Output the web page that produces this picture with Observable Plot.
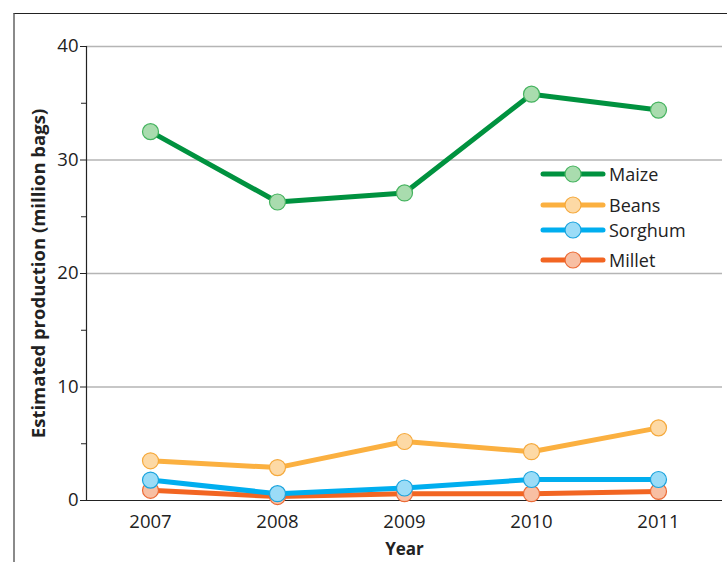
<!DOCTYPE html>
<html>
<head>
<meta charset="utf-8">
<script src="https://cdn.jsdelivr.net/npm/d3@7"></script>
<script src="https://cdn.jsdelivr.net/npm/@observablehq/plot@0.6"></script>
<style>
  html, body { margin: 0; padding: 0; background: #fff; }
  #wrap { position: relative; width: 727px; height: 562px; overflow: hidden; font-family: "Open Sans", sans-serif; }
  #frame { position: absolute; left: 13px; top: 13px; right: 0; bottom: -5px; border-top: 1.5px solid #222; border-left: 2px solid #8a8a8a; pointer-events: none; }
  #legend { position: absolute; left: 540px; top: 0; font-size: 18px; color: #222; }
  .row { position: absolute; left: 0; display: flex; align-items: center; white-space: nowrap; }
  .row span { margin-left: 3px; }
  svg text { font-family: "Open Sans", sans-serif; }
  g[aria-label="y-axis tick label"], g[aria-label="x-axis tick label"] { font-size: 18.5px; }
  g[aria-label="y-axis tick label"] text, g[aria-label="x-axis tick label"] text { font-size: 18.5px; }
  g[aria-label="y-axis label"] text { font-weight: bold; font-size: 18.5px; }
  g[aria-label="x-axis label"] text { font-weight: bold; font-size: 17px; }
</style>
</head>
<body>
<div id="wrap"><div id="frame"></div><div id="legend"></div></div>
<script>
const years = ["2007", "2008", "2009", "2010", "2011"];
const seriesNames = ["Maize", "Beans", "Sorghum", "Millet"];
const maize = [32.5, 26.3, 27.1, 35.8, 34.4];
const beans = [3.5, 2.9, 5.2, 4.3, 6.4];
const sorghum = [1.8, 0.6, 1.1, 1.85, 1.85];
const millet = [0.9, 0.35, 0.6, 0.6, 0.8];
const majorTicks = [0, 10, 20, 30, 40];
const minorTicks = [5, 15, 25, 35];
const lineColors = ["#00923f", "#fbb040", "#00aeef", "#f26522"];
const fillColors = ["#a9dcae", "#fdd9a5", "#9bdcf7", "#f8bfa3"];
const strokeColors = ["#45b35f", "#f5a93c", "#1aa3dd", "#ec6a35"];

const valuesBySeries = [maize, beans, sorghum, millet];
const data = [];
seriesNames.forEach((s, i) => years.forEach((y, j) => data.push({series: s, year: y, value: valuesBySeries[i][j]})));

// draw order: Millet, Sorghum, Beans, Maize
const drawOrder = ["Millet", "Sorghum", "Beans", "Maize"];
const seriesMarks = [];
for (const s of drawOrder) {
  const i = seriesNames.indexOf(s);
  const d = data.filter(r => r.series === s);
  seriesMarks.push(Plot.line(d, {x: "year", y: "value", stroke: lineColors[i], strokeWidth: 5, strokeLinejoin: "round"}));
  seriesMarks.push(Plot.dot(d, {x: "year", y: "value", r: 8, fill: fillColors[i], stroke: strokeColors[i], strokeWidth: 1.2}));
}

const chart = Plot.plot({
  width: 727,
  height: 562,
  marginLeft: 86,
  marginRight: 5,
  marginTop: 46,
  marginBottom: 62,
  style: {fontSize: "18px", color: "#222", background: "transparent", overflow: "visible"},
  x: {type: "point", domain: years, padding: 0.5},
  y: {domain: [0, 40]},
  marks: [
    Plot.gridY(majorTicks.slice(1), {stroke: "#b5b5b5", strokeOpacity: 1, strokeWidth: 1.5}),
    Plot.axisY(majorTicks, {tickSize: 6, tickPadding: 2, label: "Estimated production (million bags)", labelAnchor: "center", labelArrow: "none", labelOffset: 55, fontSize: 18}),
    Plot.axisY(minorTicks, {tickSize: 5, tickFormat: () => "", label: null}),
    Plot.axisX({tickSize: 0, tickPadding: 14, label: "Year", labelAnchor: "center", labelArrow: "none", labelOffset: 54, fontSize: 18}),
    Plot.ruleY([0], {stroke: "#222", strokeWidth: 1.2}),
    Plot.frame({anchor: "left", stroke: "#222", strokeWidth: 1.2}),
    ...seriesMarks
  ]
});
document.getElementById("wrap").prepend(chart);

// legend
const legendTops = [175, 206, 231, 261];
const legend = document.getElementById("legend");
seriesNames.forEach((s, i) => {
  const row = document.createElement("div");
  row.className = "row";
  row.style.top = (legendTops[i] - 13) + "px";
  const ns = "http://www.w3.org/2000/svg";
  const svg = document.createElementNS(ns, "svg");
  svg.setAttribute("width", 66); svg.setAttribute("height", 24);
  const line = document.createElementNS(ns, "line");
  line.setAttribute("x1", 3); line.setAttribute("x2", 63); line.setAttribute("y1", 12); line.setAttribute("y2", 12);
  line.setAttribute("stroke", lineColors[i]); line.setAttribute("stroke-width", 5); line.setAttribute("stroke-linecap", "round");
  const c = document.createElementNS(ns, "circle");
  c.setAttribute("cx", 33); c.setAttribute("cy", 12); c.setAttribute("r", 8);
  c.setAttribute("fill", fillColors[i]); c.setAttribute("stroke", strokeColors[i]); c.setAttribute("stroke-width", 1.2);
  svg.append(line, c);
  const t = document.createElement("span");
  t.textContent = s;
  row.append(svg, t);
  legend.append(row);
});
</script>
</body>
</html>
